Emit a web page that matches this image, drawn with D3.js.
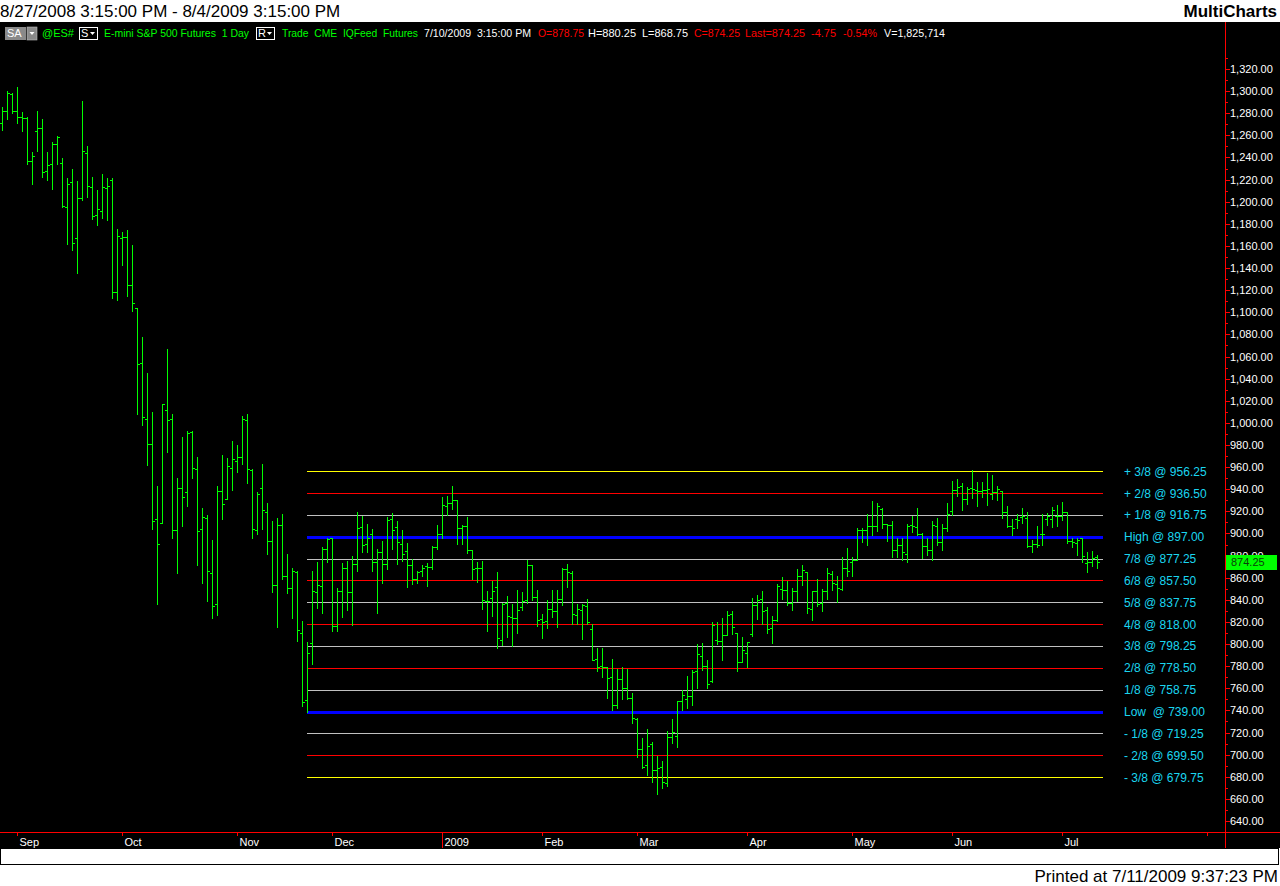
<!DOCTYPE html>
<html><head><meta charset="utf-8">
<script src="https://cdn.jsdelivr.net/npm/d3@7"></script>
<style>
html,body{margin:0;padding:0;background:#fff;}
svg{display:block;font-family:"Liberation Sans",Arial,sans-serif;}
</style></head>
<body><svg id="c" width="1280" height="886"></svg>
<script>
// ---------- DATA ----------
const titleText = "8/27/2008 3:15:00 PM - 8/4/2009 3:15:00 PM";
const brandText = "MultiCharts";
const printedText = "Printed at 7/11/2009 9:37:23 PM";
const symbol = "@ES#";
const instrument = "E-mini S&P 500 Futures  1 Day";
const feed = "Trade  CME  IQFeed  Futures";
const lastTime = "7/10/2009  3:15:00 PM";
const quoteLabels = ["O=878.75","H=880.25","L=868.75","C=874.25","Last=874.25","-4.75","-0.54%","V=1,825,714"];
const lastPrice = 874.25;

const firstDay = "2008-08-27", lastDay = "2009-07-10";
const holidays = ["2008-09-01","2008-11-27","2008-12-25","2009-01-01","2009-01-19","2009-02-16","2009-04-10","2009-05-25"];

const opens = [1270.9,1281.7,1297.4,1281.7,1276.3,1275.4,1236.8,1263.6,1266.4,1227.8,1233.8,1251.9,1234.7,1194.9,1217.5,1166.9,1203.1,1243.7,1213.0,1187.7,
1191.9,1212.1,1219.3,1118.1,1166.9,1167.8,1124.4,1103.6,1053.8,1003.5,980.6,913.1,909.2,1011.4,1003.5,902.8,940.8,937.2,992.1,958.0,
903.7,913.7,864.0,835.9,938.1,930.9,958.9,965.2,969.1,1002.3,957.1,902.8,940.8,919.4,892.9,853.1,907.4,861.2,850.4,864.9,
809.7,749.1,800.7,846.8,852.2,885.7,895.9,816.0,847.7,868.5,846.8,872.1,905.6,890.5,899.2,873.9,883.3,872.1,913.1,906.2,
890.2,883.9,871.2,858.5,866.1,870.3,869.4,887.5,899.2,924.8,927.6,930.3,904.6,906.5,884.8,868.5,868.5,838.6,841.4,851.3,
804.1,836.8,824.5,823.6,833.2,839.5,871.2,842.3,823.0,821.2,831.4,829.6,840.4,867.9,864.0,826.0,830.5,834.1,813.3,786.2,
779.9,779.0,769.9,744.9,768.1,760.6,751.5,732.5,704.8,690.6,709.3,685.8,688.5,674.1,715.9,716.5,748.8,750.3,753.3,775.9,
789.5,779.9,766.3,803.4,802.5,807.9,827.2,810.3,783.5,792.2,808.8,835.0,840.4,830.8,814.5,821.8,850.1,848.9,837.1,848.0,
861.2,865.2,831.7,848.0,836.8,848.0,863.4,854.3,849.8,868.5,874.5,876.3,902.8,902.8,906.5,906.5,922.1,908.3,907.4,884.8,
889.3,881.7,907.7,905.6,899.2,888.7,884.8,907.1,892.0,904.9,920.3,939.3,942.9,931.2,941.1,939.3,938.4,939.3,935.7,937.2,
938.4,919.1,907.1,913.4,914.9,914.0,888.4,890.2,899.2,913.1,913.1,915.8,915.8,919.1,893.2,891.4,895.6,873.0,873.9,878.75];
const highs = [1285.3,1299.8,1298.0,1303.4,1281.1,1276.3,1244.6,1281.7,1274.5,1244.6,1253.7,1259.1,1239.2,1221.1,1229.3,1218.4,1290.8,1250.1,1222.0,1210.3,
1224.8,1221.1,1221.1,1175.0,1172.3,1174.1,1160.6,1104.0,1077.7,1045.1,1009.8,942.9,1017.1,1066.8,1008.0,950.2,987.5,992.7,992.7,969.1,
923.0,916.7,894.1,942.9,971.0,968.2,983.6,980.0,1006.2,1008.0,958.6,937.5,962.8,927.6,911.6,914.0,917.6,881.4,868.8,866.1,
820.9,801.6,866.1,874.2,887.8,895.6,895.9,850.7,873.3,875.1,879.6,919.1,916.1,908.6,903.8,885.7,893.2,914.9,918.5,911.3,
902.8,891.4,877.2,866.1,871.5,873.3,888.4,907.7,933.0,933.9,942.9,930.3,907.7,914.9,884.8,874.2,875.1,848.0,857.0,865.2,
837.4,843.5,836.2,848.9,847.1,876.0,871.2,848.9,827.2,839.8,848.9,848.9,868.8,872.4,866.1,835.9,836.2,840.8,817.8,796.4,
796.4,779.6,786.5,777.4,779.3,777.4,755.8,732.9,714.8,722.9,711.4,698.8,694.0,721.1,732.2,748.8,758.5,771.1,776.2,800.0,
801.0,785.3,820.3,819.7,823.6,829.6,829.9,810.3,806.4,801.9,841.7,844.4,848.0,833.5,825.1,854.3,860.6,857.0,851.0,867.9,
871.5,865.2,848.0,858.8,849.5,868.8,866.1,861.5,878.7,886.9,878.4,904.9,904.9,917.6,929.4,927.6,922.7,908.3,911.3,895.9,
895.9,908.3,916.1,923.0,900.4,895.9,911.3,914.3,908.6,927.6,947.5,949.3,945.3,941.7,957.4,946.6,946.6,954.7,952.9,942.6,
938.4,924.8,913.4,917.6,923.0,919.1,894.4,906.8,917.3,918.5,924.2,925.7,928.5,919.1,896.2,895.6,895.6,883.0,884.2,880.25];
const lows = [1264.9,1275.1,1280.5,1270.9,1264.2,1234.4,1216.3,1246.1,1222.6,1219.9,1211.8,1233.8,1194.9,1162.1,1156.6,1135.8,1201.9,1204.6,1184.7,1179.2,
1185.6,1183.8,1113.2,1111.4,1143.1,1115.1,1101.5,1008.3,998.4,962.2,904.4,836.5,909.2,974.0,896.2,864.6,907.1,925.2,950.5,871.8,
855.5,839.2,823.9,826.6,913.4,930.9,939.6,955.9,963.1,945.9,896.2,899.8,904.4,881.8,847.4,815.7,859.1,846.5,823.9,802.8,
744.3,739.0,782.3,832.9,828.4,874.5,812.1,812.1,824.8,831.1,816.9,866.4,883.6,883.6,866.4,828.4,855.5,868.2,886.3,872.7,
875.4,851.9,854.6,855.5,861.9,852.8,868.2,885.7,895.6,916.7,922.1,890.5,890.5,882.0,859.1,856.4,832.0,812.1,825.7,796.7,
799.4,806.7,798.3,810.3,830.5,836.8,839.5,816.6,805.8,814.8,824.8,815.7,835.6,851.9,818.1,818.1,804.9,818.1,785.3,776.0,
769.9,751.5,740.4,742.5,750.6,750.3,728.9,698.2,688.2,681.3,675.6,664.7,670.2,672.0,710.8,707.2,740.4,742.5,744.9,760.6,
776.5,760.6,765.4,800.4,785.9,807.9,808.8,775.3,783.5,779.0,807.0,822.4,818.1,810.3,801.3,821.2,840.4,835.6,831.1,839.2,
853.4,828.4,822.0,834.7,830.2,841.1,848.6,838.0,848.9,861.5,861.8,876.0,892.6,889.9,898.6,902.5,904.9,893.5,879.0,879.0,
876.3,874.5,901.6,898.6,877.5,880.8,876.3,889.9,885.1,901.9,916.4,934.2,921.2,926.9,932.4,924.8,933.3,926.0,930.9,930.3,
914.0,906.2,898.6,905.3,909.8,888.1,883.2,888.1,889.6,907.7,906.2,907.1,912.5,891.4,887.8,880.8,874.5,864.9,870.9,868.75];
const closes = [1281.7,1298.0,1282.3,1276.3,1275.4,1236.8,1241.0,1266.4,1226.6,1232.9,1251.9,1258.2,1195.8,1215.7,1162.4,1203.1,1245.6,1213.9,1186.8,1193.1,
1213.0,1213.9,1118.1,1168.7,1167.8,1124.4,1108.1,1052.9,1005.0,980.6,911.6,890.2,1016.8,1002.3,902.8,940.8,932.7,990.6,958.9,902.2,
914.6,865.8,834.4,938.1,926.4,961.0,967.1,969.1,1003.5,958.0,903.7,935.4,920.9,892.9,853.1,907.4,861.2,850.4,865.8,812.4,
747.3,791.6,847.7,853.1,885.7,894.7,816.0,847.7,868.5,846.8,872.1,904.6,889.3,895.6,873.9,883.3,872.1,912.2,902.8,892.3,
881.1,871.2,858.5,865.5,868.5,869.4,887.5,899.2,925.8,927.6,930.3,904.6,906.5,884.8,867.6,868.5,839.5,838.6,847.7,805.2,
835.9,825.4,823.6,830.5,838.6,871.2,842.3,822.1,820.3,831.4,829.6,840.4,867.9,864.9,826.9,831.4,835.3,819.7,785.3,779.0,
779.0,769.0,744.6,768.1,760.6,751.5,733.4,704.8,688.8,707.8,685.8,687.6,675.6,715.9,720.2,748.8,753.9,753.3,775.0,790.7,
779.9,763.6,817.6,802.5,807.9,826.3,815.1,783.5,794.3,801.9,835.0,839.5,829.9,813.6,821.8,852.5,848.9,837.1,848.0,861.2,
867.0,832.6,848.0,835.9,848.0,864.3,855.2,850.7,868.5,866.1,876.3,902.8,902.8,906.5,906.5,924.8,908.3,907.4,884.8,889.3,
882.9,906.5,906.5,899.2,888.7,884.8,908.0,892.0,904.9,917.6,939.3,941.7,931.2,939.9,939.9,938.4,939.3,940.2,937.8,940.2,
919.1,907.1,905.0,911.9,915.8,888.4,890.2,889.9,899.2,915.8,921.2,915.8,919.1,893.2,892.3,894.4,880.0,873.9,878.1,874.25];

const levelNames = ["+ 3/8","+ 2/8","+ 1/8","High","7/8","6/8","5/8","4/8","3/8","2/8","1/8","Low ","- 1/8","- 2/8","- 3/8"];
const levelValues = [956.25,936.50,916.75,897.00,877.25,857.50,837.75,818.00,798.25,778.50,758.75,739.00,719.25,699.50,679.75];
const levelStartDay = "2008-11-21";
const priceTicks = d3.range(640, 1321, 20);
const priceMinorTicks = d3.range(630, 1331, 10);

// ---------- BUILD ----------
const fmtDay = d3.timeFormat("%Y-%m-%d");
const hol = new Set(holidays);
const days = d3.timeDay.range(d3.timeParse("%Y-%m-%d")(firstDay), d3.timeDay.offset(d3.timeParse("%Y-%m-%d")(lastDay),1))
  .filter(d => d.getDay()!==0 && d.getDay()!==6 && !hol.has(fmtDay(d)));
const bars = days.map((d,i)=>({d, i, o:opens[i], h:highs[i], l:lows[i], c:closes[i]}));

const svg = d3.select("#c");
const W = 1280, H = 886;
const panelTop = 22, axisY = 832, panelBottom = 848, axisX = 1225;

const x = d3.scaleLinear().domain([-0.5, 244.5]).range([0, axisX]);
const y = d3.scaleLinear().domain([640, 1320]).range([821, 69]);
const px = i => Math.floor(x(i));
const py = v => Math.round(y(v));

svg.append("rect").attr("width",W).attr("height",H).attr("fill","#fff");
svg.append("rect").attr("x",0).attr("y",panelTop).attr("width",W).attr("height",panelBottom-panelTop).attr("fill","#000");

// header
svg.append("text").attr("x",0).attr("y",17).attr("font-size",17).attr("fill","#000").text(titleText);
svg.append("text").attr("x",1277).attr("y",17).attr("font-size",17).attr("font-weight","bold").attr("text-anchor","end").attr("fill","#000").text(brandText);

// legend row
const lg = svg.append("g").attr("font-size",11);
const lgBase = 37;
lg.append("rect").attr("x",5).attr("y",27).attr("width",21).attr("height",13).attr("fill","#8a8a8a");
lg.append("text").attr("x",7).attr("y",lgBase).attr("fill","#fff").text("SA");
lg.append("rect").attr("x",27).attr("y",27).attr("width",10).attr("height",13).attr("fill","#8a8a8a").attr("stroke","#bbb").attr("stroke-width",0.6);
lg.append("path").attr("d","M29.5,32 L34.5,32 L32,35 Z").attr("fill","#fff");
lg.append("text").attr("x",42).attr("y",lgBase).attr("fill","#00ff00").text(symbol);
function ddBox(x0, letter){
  lg.append("rect").attr("x",x0+0.5).attr("y",27.5).attr("width",18).attr("height",12).attr("fill","none").attr("stroke","#fff");
  lg.append("text").attr("x",x0+2).attr("y",lgBase).attr("fill","#fff").text(letter);
  lg.append("path").attr("d",`M${x0+11},32 L${x0+16},32 L${x0+13.5},35 Z`).attr("fill","#fff");
}
ddBox(79,"S");
lg.append("text").attr("x",104).attr("y",lgBase).attr("fill","#00ff00").attr("xml:space","preserve").style("white-space","pre").attr("textLength",145).attr("lengthAdjust","spacingAndGlyphs").text(instrument);
ddBox(256,"R");
lg.append("text").attr("x",282).attr("y",lgBase).attr("fill","#00ff00").style("white-space","pre").attr("textLength",136).attr("lengthAdjust","spacingAndGlyphs").text(feed);
lg.append("text").attr("x",424).attr("y",lgBase).attr("fill","#fff").style("white-space","pre").attr("textLength",107).attr("lengthAdjust","spacingAndGlyphs").text(lastTime);
const qX = [538,588,642,694,745,811,843,884];
const qW = [46,48,46,46,60,25,34,61];
const qC = ["#ff0000","#fff","#fff","#ff0000","#ff0000","#ff0000","#ff0000","#fff"];
quoteLabels.forEach((t,k)=>{
  lg.append("text").attr("x",qX[k]).attr("y",lgBase).attr("fill",qC[k]).attr("textLength",qW[k]).attr("lengthAdjust","spacingAndGlyphs").text(t);
});

// level lines
const lvColor = name => {
  if (name.startsWith("High") || name.startsWith("Low")) return "#0000ff";
  if (name.includes("3/8") && (name.startsWith("+")||name.startsWith("-"))) return "#ffff00";
  const n = +name.replace(/[^0-9\/]/g,"").split("/")[0];
  return n % 2 === 0 ? "#ff0000" : "#c0c0c0";
};
const startIdx = bars.findIndex(b => fmtDay(b.d) === levelStartDay);
const endIdx = bars.length;
const lv = svg.append("g");
levelValues.forEach((v,k)=>{
  const c = lvColor(levelNames[k]);
  const thick = c === "#0000ff";
  lv.append("line").attr("x1",px(startIdx)).attr("x2",px(endIdx)+1)
    .attr("y1",py(v)+(thick?0:0.5)).attr("y2",py(v)+(thick?0:0.5))
    .attr("stroke",c).attr("stroke-width",thick?3:1).attr("shape-rendering","crispEdges");
  lv.append("text").attr("x",1124).attr("y",y(v)+4.5).attr("font-size",12).attr("fill","#1ad6f0")
    .style("white-space","pre").text(`${levelNames[k]} @ ${v.toFixed(2)}`);
});

// OHLC bars
const bg = svg.append("g").attr("fill","#00ff00").attr("shape-rendering","crispEdges");
bars.forEach(b=>{
  const xx = px(b.i);
  const yh = py(b.h), yl = py(b.l);
  bg.append("rect").attr("x",xx).attr("y",yh).attr("width",1).attr("height",Math.max(1,yl-yh+1));
  bg.append("rect").attr("x",xx-2).attr("y",py(b.o)).attr("width",2).attr("height",1);
  bg.append("rect").attr("x",xx+1).attr("y",py(b.c)).attr("width",2).attr("height",1);
});

// price axis
const ax = svg.append("g").attr("shape-rendering","crispEdges");
ax.append("line").attr("x1",axisX+0.5).attr("x2",axisX+0.5).attr("y1",panelTop).attr("y2",panelBottom).attr("stroke","#ff0000");
priceMinorTicks.forEach(v=>{
  ax.append("line").attr("x1",axisX).attr("x2",axisX+3).attr("y1",py(v)+0.5).attr("y2",py(v)+0.5).attr("stroke","#ff0000");
});
const fmtP = d3.format(",.2f");
priceTicks.forEach(v=>{
  ax.append("line").attr("x1",axisX).attr("x2",axisX+5).attr("y1",py(v)+0.5).attr("y2",py(v)+0.5).attr("stroke","#ff0000");
  svg.append("text").attr("x",1230).attr("y",y(v)+4).attr("font-size",11).attr("fill","#fff").text(fmtP(v));
});
// last price marker
svg.append("rect").attr("x",1226).attr("y",Math.round(y(lastPrice))-7).attr("width",51).attr("height",15).attr("fill","#00ff00");
svg.append("text").attr("x",1231).attr("y",y(lastPrice)+4.5).attr("font-size",11).attr("fill","#0b3d0b").text(lastPrice.toFixed(2));

// time axis
const tg = svg.append("g").attr("shape-rendering","crispEdges");
tg.append("line").attr("x1",0).attr("x2",W).attr("y1",axisY+0.5).attr("y2",axisY+0.5).attr("stroke","#ff0000");
const monthFmt = d3.timeFormat("%b");
const monthStarts = bars.filter((b,k)=> k>0 && b.d.getMonth() !== bars[k-1].d.getMonth());
monthStarts.forEach(b=>{
  const xx = px(b.i)+0.5;
  const isYear = b.d.getMonth()===0;
  tg.append("line").attr("x1",xx).attr("x2",xx).attr("y1",axisY).attr("y2",isYear?panelBottom:axisY+4).attr("stroke","#ff0000");
  svg.append("text").attr("x",xx+2).attr("y",846).attr("font-size",11).attr("fill","#fff").text(isYear? d3.timeFormat("%Y")(b.d) : monthFmt(b.d));
});
tg.append("line").attr("x1",px(241)+0.5).attr("x2",px(241)+0.5).attr("y1",axisY).attr("y2",axisY+4).attr("stroke","#ff0000");

// bottom box & footer
svg.append("rect").attr("x",0.5).attr("y",848.5).attr("width",1278).attr("height",16).attr("fill","#fff").attr("stroke","#000").attr("shape-rendering","crispEdges");
svg.append("text").attr("x",1278).attr("y",882).attr("font-size",17).attr("text-anchor","end").attr("fill","#000").text(printedText);
</script></body></html>
